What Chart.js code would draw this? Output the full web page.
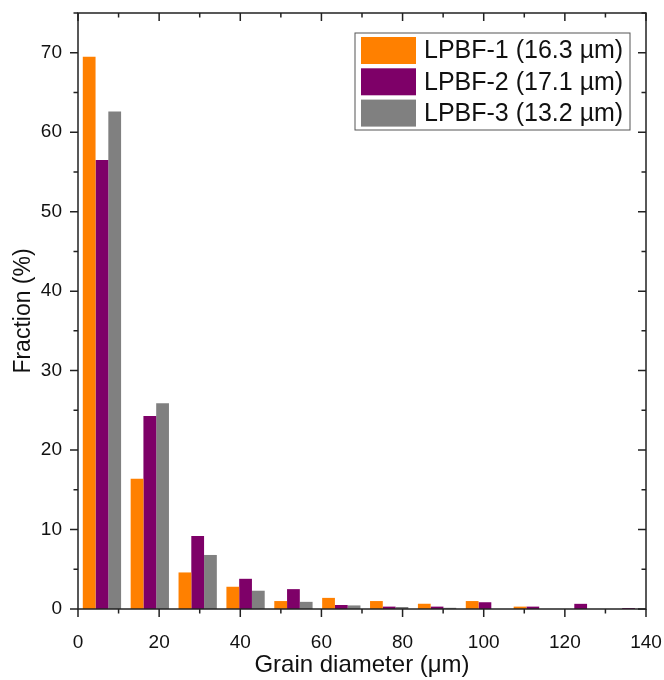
<!DOCTYPE html>
<html>
<head>
<meta charset="utf-8">
<script src="https://cdn.jsdelivr.net/npm/chart.js@4/dist/chart.umd.min.js"></script>
<style>
  body { margin: 0; background: #fff; }
</style>
</head>
<body>
<canvas id="grainChart" width="664" height="680"></canvas>
<script>
// bin centres (um) and fraction (%) per build
const binCenters = [5.9, 17.7, 29.5, 41.3, 53.1, 64.9, 76.7, 88.5, 100.3, 112.1, 123.9, 135.7];
const lpbf1 = [69.5, 16.4, 4.6, 2.8, 1.0, 1.4, 1.0, 0.66, 1.0, 0.3, 0, 0];
const lpbf2 = [56.5, 24.3, 9.2, 3.8, 2.5, 0.5, 0.3, 0.3, 0.85, 0.3, 0.65, 0.12];
const lpbf3 = [62.6, 25.9, 6.8, 2.3, 0.9, 0.45, 0.25, 0.15, 0, 0, 0, 0];
const seriesLabels = ['LPBF-1 (16.3 µm)', 'LPBF-2 (17.1 µm)', 'LPBF-3 (13.2 µm)'];
const seriesColors = ['#ff8000', '#7e0068', '#808080'];
const xTicks = [0, 20, 40, 60, 80, 100, 120, 140];
const yTicks = [0, 10, 20, 30, 40, 50, 60, 70];

const FONT = '"Liberation Sans", Arial, sans-serif';

function toPoints(vals) {
  return vals.map((v, i) => ({ x: binCenters[i], y: v }));
}

// box frame with Origin-style ticks (bottom/left outward, top/right inward)
const framePlugin = {
  id: 'frame',
  afterDraw(chart) {
    const { ctx, chartArea: { left, right, top, bottom } } = chart;
    const x = chart.scales.x, y = chart.scales.y;
    ctx.save();
    ctx.strokeStyle = '#222';
    ctx.lineWidth = 1.5;
    ctx.strokeRect(left, top, right - left, bottom - top);
    ctx.beginPath();
    for (let v = 0; v <= 140; v += 10) {
      const px = x.getPixelForValue(v);
      const len = v % 20 === 0 ? 8 : 4.5;
      ctx.moveTo(px, bottom); ctx.lineTo(px, bottom + len);
      ctx.moveTo(px, top); ctx.lineTo(px, top + len);
    }
    for (let v = 0; v <= 75; v += 5) {
      const py = y.getPixelForValue(v);
      const len = v % 10 === 0 ? 8 : 4.5;
      ctx.moveTo(left, py); ctx.lineTo(left - len, py);
      ctx.moveTo(right, py); ctx.lineTo(right - len, py);
    }
    ctx.stroke();
    ctx.restore();
  }
};

// legend box inside the plot, top right
const legendPlugin = {
  id: 'boxLegend',
  afterDraw(chart) {
    const { ctx, chartArea } = chart;
    const bx = chartArea.right - 291, by = chartArea.top + 20;
    const bw = 275, bh = 97;
    ctx.save();
    ctx.strokeStyle = '#555';
    ctx.lineWidth = 1;
    ctx.strokeRect(bx, by, bw, bh);
    ctx.font = '25px ' + FONT;
    ctx.textBaseline = 'middle';
    chart.data.datasets.forEach((ds, i) => {
      const ry = by + 4 + i * 31.3;
      ctx.fillStyle = ds.backgroundColor;
      ctx.fillRect(bx + 6, ry, 55, 27);
      ctx.fillStyle = '#111';
      ctx.fillText(ds.label, bx + 69, ry + 14.5);
    });
    ctx.restore();
  }
};

new Chart(document.getElementById('grainChart'), {
  type: 'bar',
  data: {
    datasets: [
      { label: seriesLabels[0], data: toPoints(lpbf1), backgroundColor: seriesColors[0] },
      { label: seriesLabels[1], data: toPoints(lpbf2), backgroundColor: seriesColors[1] },
      { label: seriesLabels[2], data: toPoints(lpbf3), backgroundColor: seriesColors[2] }
    ]
  },
  options: {
    responsive: false,
    animation: false,
    categoryPercentage: 0.8,
    barPercentage: 1.0,
    layout: { padding: { top: 13, right: 18, left: 0, bottom: 0 } },
    plugins: {
      legend: { display: false },
      tooltip: { enabled: false }
    },
    scales: {
      x: {
        type: 'linear',
        min: 0, max: 140,
        offset: false,
        grid: { display: false },
        border: { display: false },
        afterBuildTicks: s => { s.ticks = xTicks.map(v => ({ value: v })); },
        afterFit: s => { s.height = 71; s.paddingLeft = 0; s.paddingRight = 0; },
        ticks: { color: '#111', font: { family: FONT, size: 19 }, padding: 14, maxRotation: 0 },
        title: { display: true, text: 'Grain diameter (μm)', color: '#111',
                 font: { family: FONT, size: 24 }, padding: { top: 0, bottom: 0 } }
      },
      y: {
        min: 0, max: 75,
        grid: { display: false },
        border: { display: false },
        afterBuildTicks: s => { s.ticks = yTicks.map(v => ({ value: v })); },
        afterFit: s => { s.width = 78; s.paddingTop = 0; s.paddingBottom = 0; },
        ticks: { color: '#111', font: { family: FONT, size: 19 }, padding: 8 },
        title: { display: true, text: 'Fraction (%)', color: '#111',
                 font: { family: FONT, size: 23 }, padding: { top: 10, bottom: 0 } }
      }
    }
  },
  plugins: [framePlugin, legendPlugin]
});
</script>
</body>
</html>
